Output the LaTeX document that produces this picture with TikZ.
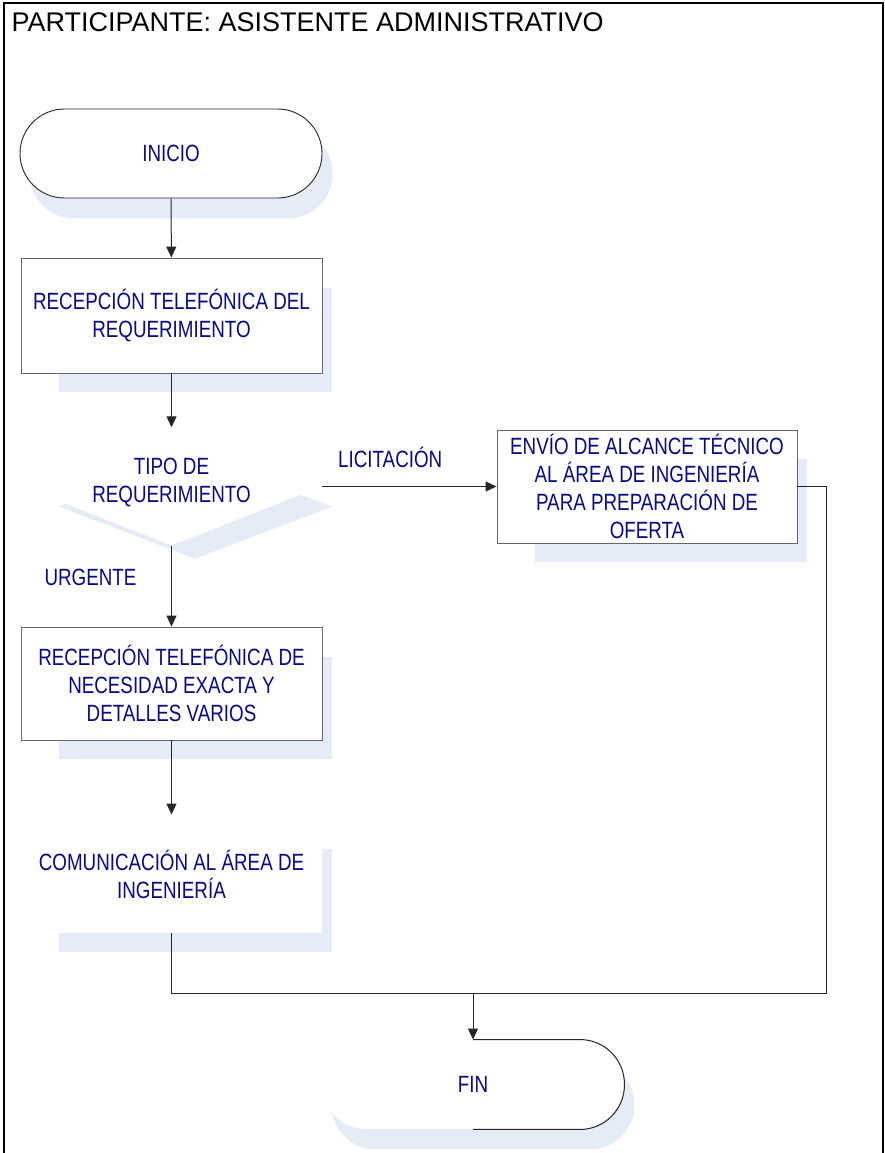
\documentclass[tikz,border=0pt]{standalone}
\usepackage{fontspec}
\setmainfont{Liberation Sans}
\newfontfamily\boxfont[FakeStretch=0.8]{Liberation Sans}
\usetikzlibrary{shapes.geometric,arrows.meta,calc,backgrounds}
\definecolor{navy}{RGB}{10,10,128}
\definecolor{sombra}{RGB}{229,235,247}
\begin{document}
\begin{tikzpicture}[x=1pt,y=-1pt,
	caja/.style={draw=black!60,line width=0.9pt,fill=white,inner sep=0pt,minimum width=301pt,minimum height=115pt,align=center,text=navy,font=\boxfont\fontsize{23.5}{28}\selectfont},
	term/.style={caja,draw=black!85,rounded corners=44.5pt,minimum width=302pt,minimum height=89pt},
	linea/.style={line width=1pt,draw=black!85},
	flecha/.style={linea,-{Triangle[length=11pt,width=10pt]}},
	etiq/.style={inner sep=0pt,text=navy,font=\boxfont\fontsize{23.5}{28}\selectfont}]
				\useasboundingbox (0,0) rectangle (884,1153);
				\draw[line width=2.3pt] (3.7,1153) -- (3.7,2.7) -- (882.8,2.7) -- (882.8,1153);
				\node[anchor=base west,font=\fontsize{27}{31}\selectfont] (titulo) at (8,32) {PARTICIPANTE: ASISTENTE ADMINISTRATIVO};
				\node[term] (inicio) at (171,153.5) {INICIO};
				\node[caja] (recep) at (171.5,315.5) {RECEPCIÓN TELEFÓNICA DEL\\REQUERIMIENTO};
				\node[diamond,fill=white,inner sep=0pt,minimum width=301pt,minimum height=118pt] (tipo) at (171.5,486.5) {};
				\node[etiq,align=center] (tipotxt) at ($(tipo)+(0,-4)$) {TIPO DE\\REQUERIMIENTO};
				\node[caja,minimum width=300pt,minimum height=113pt] (envio) at (647,486.5) {ENVÍO DE ALCANCE TÉCNICO\\AL ÁREA DE INGENIERÍA\\PARA PREPARACIÓN DE\\OFERTA};
				\node[caja,minimum height=113pt] (necesidad) at (171.5,683.5) {RECEPCIÓN TELEFÓNICA DE\\NECESIDAD EXACTA Y\\DETALLES VARIOS};
				\node[caja,draw=none,minimum height=118pt] (comunic) at (171.5,874) {COMUNICACIÓN AL ÁREA DE\\INGENIERÍA};
				\node[term,draw=none] (fin) at (473,1084.5) {FIN};
				\draw[linea,rounded corners=44.5pt] (fin.north) -- (fin.north east) -- (fin.south east) -- (fin.south);
				\begin{scope}[on background layer]
					\foreach \n in {inicio,fin}{\fill[sombra,rounded corners=44.5pt] ($(\n.north west)+(10,20)$) rectangle ($(\n.south east)+(10,20)$);}
					\foreach \n/\t in {recep/30,envio/29,necesidad/30,comunic/34}{\fill[sombra] ($(\n.north west)+(38,\t)$) rectangle ($(\n.south east)+(10,19)$);}
					\fill[sombra] ($(tipo.west)+(38,20)$) -- ($(tipo.north)+(23.5,29)$) -- ($(tipo.east)+(10,20)$) -- ($(tipo.south)+(23.5,13)$) -- cycle;
				\end{scope}
				\coordinate (union) at (473,993);
				\coordinate (esquina) at (826,993);
				\draw[flecha] (inicio) -- (recep);
				\draw[flecha] (recep) -- (tipo);
				\draw[flecha] (tipo.east) -- (envio.west) node[etiq,pos=0.39,above=18pt] (licit) {LICITACIÓN};
				\draw[flecha] (tipo) -- (necesidad) node[etiq,pos=0.39,left=34.5pt] (urg) {URGENTE};
				\draw[flecha] (necesidad) -- (comunic);
				\draw[linea] (comunic.south) |- (union);
				\draw[linea] (envio.east) -| (esquina) -- (union);
				\draw[flecha] (union) -- (fin.north);
			\end{tikzpicture}
\end{document}
